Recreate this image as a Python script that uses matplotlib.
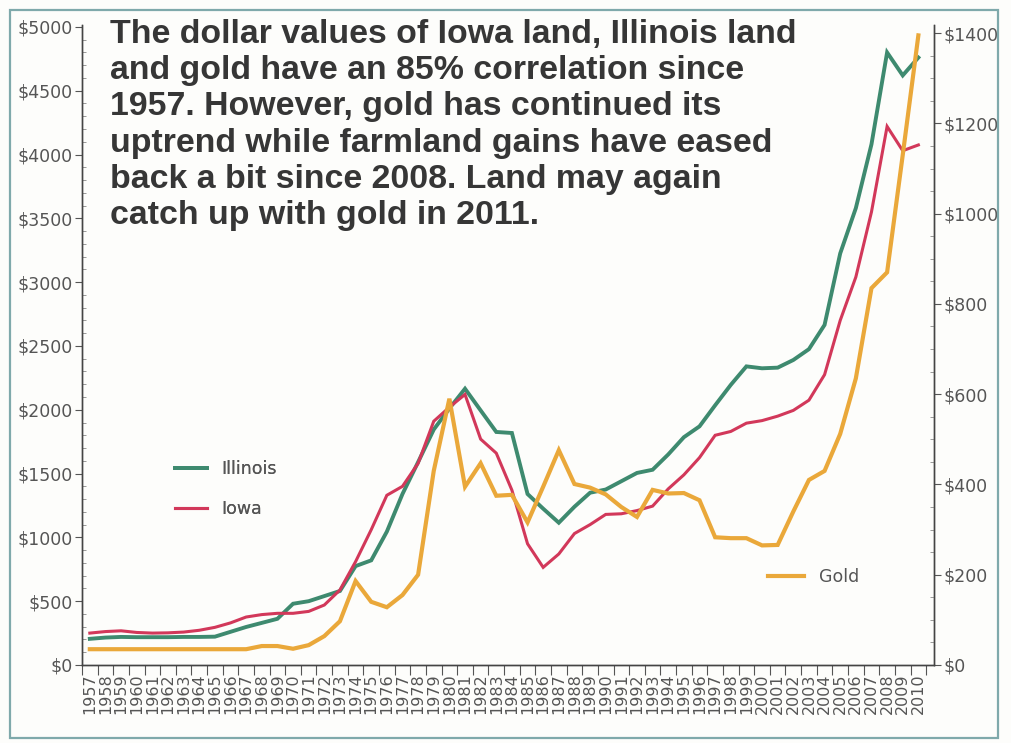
import numpy as np
import matplotlib.pyplot as plt
from matplotlib.patches import Rectangle
from matplotlib.ticker import MultipleLocator, FixedLocator

# land values ($/acre, left axis) and gold ($/oz, right axis)
years = list(range(1957, 2011))

illinois = [205, 215, 220, 218, 218, 218, 220, 220, 222, 260,
            298, 330, 362, 480, 500, 540, 580, 775, 820, 1045,
            1340, 1590, 1845, 2010, 2165, 1995, 1826, 1818, 1340, 1225,
            1115, 1240, 1350, 1375, 1440, 1505, 1530, 1650, 1785, 1870,
            2035, 2195, 2340, 2325, 2330, 2390, 2475, 2665, 3225, 3580,
            4080, 4800, 4620, 4760]

iowa = [250, 262, 268, 255, 250, 252, 258, 272, 295, 330,
        376, 395, 405, 405, 420, 470, 588, 810, 1060, 1330,
        1400, 1580, 1910, 2020, 2120, 1770, 1660, 1370, 950, 765,
        870, 1030, 1100, 1180, 1185, 1210, 1245, 1380, 1490, 1625,
        1800, 1830, 1895, 1915, 1950, 1995, 2075, 2275, 2700, 3040,
        3550, 4220, 4030, 4075]

gold = [35, 35, 35, 35, 35, 35, 35, 35, 35, 35,
        35, 42, 42, 36, 44, 64, 97, 186, 140, 128,
        155, 200, 430, 590, 395, 447, 375, 377, 316, 395,
        476, 401, 393, 378, 350, 328, 388, 380, 381, 365,
        283, 281, 281, 265, 266, 340, 410, 430, 512, 635,
        835, 870, 1130, 1395]

left_ticks = list(range(0, 5001, 500))
right_ticks = list(range(0, 1401, 200))

title_lines = [
    "The dollar values of Iowa land, Illinois land",
    "and gold have an 85% correlation since",
    "1957. However, gold has continued its",
    "uptrend while farmland gains have eased",
    "back a bit since 2008. Land may again",
    "catch up with gold in 2011.",
]

green = '#3e8a6f'
red = '#d2385a'
orange = '#eaa83a'
grey = '#555555'

plt.rcParams['font.family'] = 'DejaVu Sans'

fig = plt.figure(figsize=(10.11, 7.43), dpi=100, facecolor='#fdfdfb')
ax = fig.add_axes([82 / 1011, 78 / 743, 852 / 1011, 640 / 743])
ax.set_facecolor('none')
ax2 = ax.twinx()

l_ill, = ax.plot(years, illinois, color=green, lw=2.8, label='Illinois', solid_joinstyle='miter')
l_iowa, = ax.plot(years, iowa, color=red, lw=2.2, label='Iowa', solid_joinstyle='miter')
l_gold, = ax2.plot(years, gold, color=orange, lw=3.0, label='Gold', solid_joinstyle='miter')

ax.set_xlim(1956.5, 2011)
ax.set_ylim(0, 5015)
ax2.set_ylim(0, 1418)

# spines
for a in (ax, ax2):
    a.spines['top'].set_visible(False)
    for s in ('left', 'right', 'bottom'):
        a.spines[s].set_color('#444444')
        a.spines[s].set_linewidth(1.0)

# x axis: labels at year centres, tick marks between years
ax.set_xticks(years)
ax.set_xticklabels([str(y) for y in years], rotation=90, fontsize=11.5, color=grey)
ax.tick_params(axis='x', which='major', length=0, pad=6)
ax.xaxis.set_minor_locator(FixedLocator(np.arange(1956.5, 2011, 1)))
ax.tick_params(axis='x', which='minor', length=7, width=0.8, color='#555555', direction='out')

# left axis
ax.set_yticks(left_ticks)
ax.set_yticklabels(['$' + str(v) for v in left_ticks], fontsize=12.5, color=grey)
ax.yaxis.set_minor_locator(MultipleLocator(100))
ax.tick_params(axis='y', which='major', length=5, width=0.8, color='#555555', pad=2)
ax.tick_params(axis='y', which='minor', length=3, width=0.6, color='#888888', direction='in')

# right axis
ax2.set_yticks(right_ticks)
ax2.set_yticklabels(['$' + str(v) for v in right_ticks], fontsize=12.5, color=grey)
ax2.yaxis.set_minor_locator(MultipleLocator(50))
ax2.tick_params(axis='y', which='major', length=5, width=0.8, color='#555555', pad=2)
ax2.tick_params(axis='y', which='minor', length=3, width=0.6, color='#888888', direction='in')

# legends
leg1 = ax.legend(handles=[l_ill, l_iowa], loc='upper left', bbox_to_anchor=(0.109, 0.32),
                 frameon=False, fontsize=12.5, handlelength=1.85, handletextpad=0.85,
                 labelspacing=1.25, borderpad=0, borderaxespad=0, labelcolor=grey)
ax.add_artist(leg1)
ax2.legend(handles=[l_gold], loc='upper left', bbox_to_anchor=(0.805, 0.152),
           frameon=False, fontsize=12.5, handlelength=2.1, handletextpad=0.85,
           borderpad=0, borderaxespad=0, labelcolor=grey)

# headline text
for i, line in enumerate(title_lines):
    fig.text(110 / 1011, 1 - (43 + 36.2 * i) / 743, line, fontsize=24.4, fontweight='bold',
             family='Liberation Sans', color='#363636', va='baseline', ha='left')

# page frame of the scan
fig.patches.append(Rectangle((10 / 1011, 5 / 743), 988 / 1011, 728 / 743, transform=fig.transFigure,
                             fill=False, edgecolor='#7fa9ab', lw=1.6))

fig.savefig('out.png', dpi=100, facecolor=fig.get_facecolor())
